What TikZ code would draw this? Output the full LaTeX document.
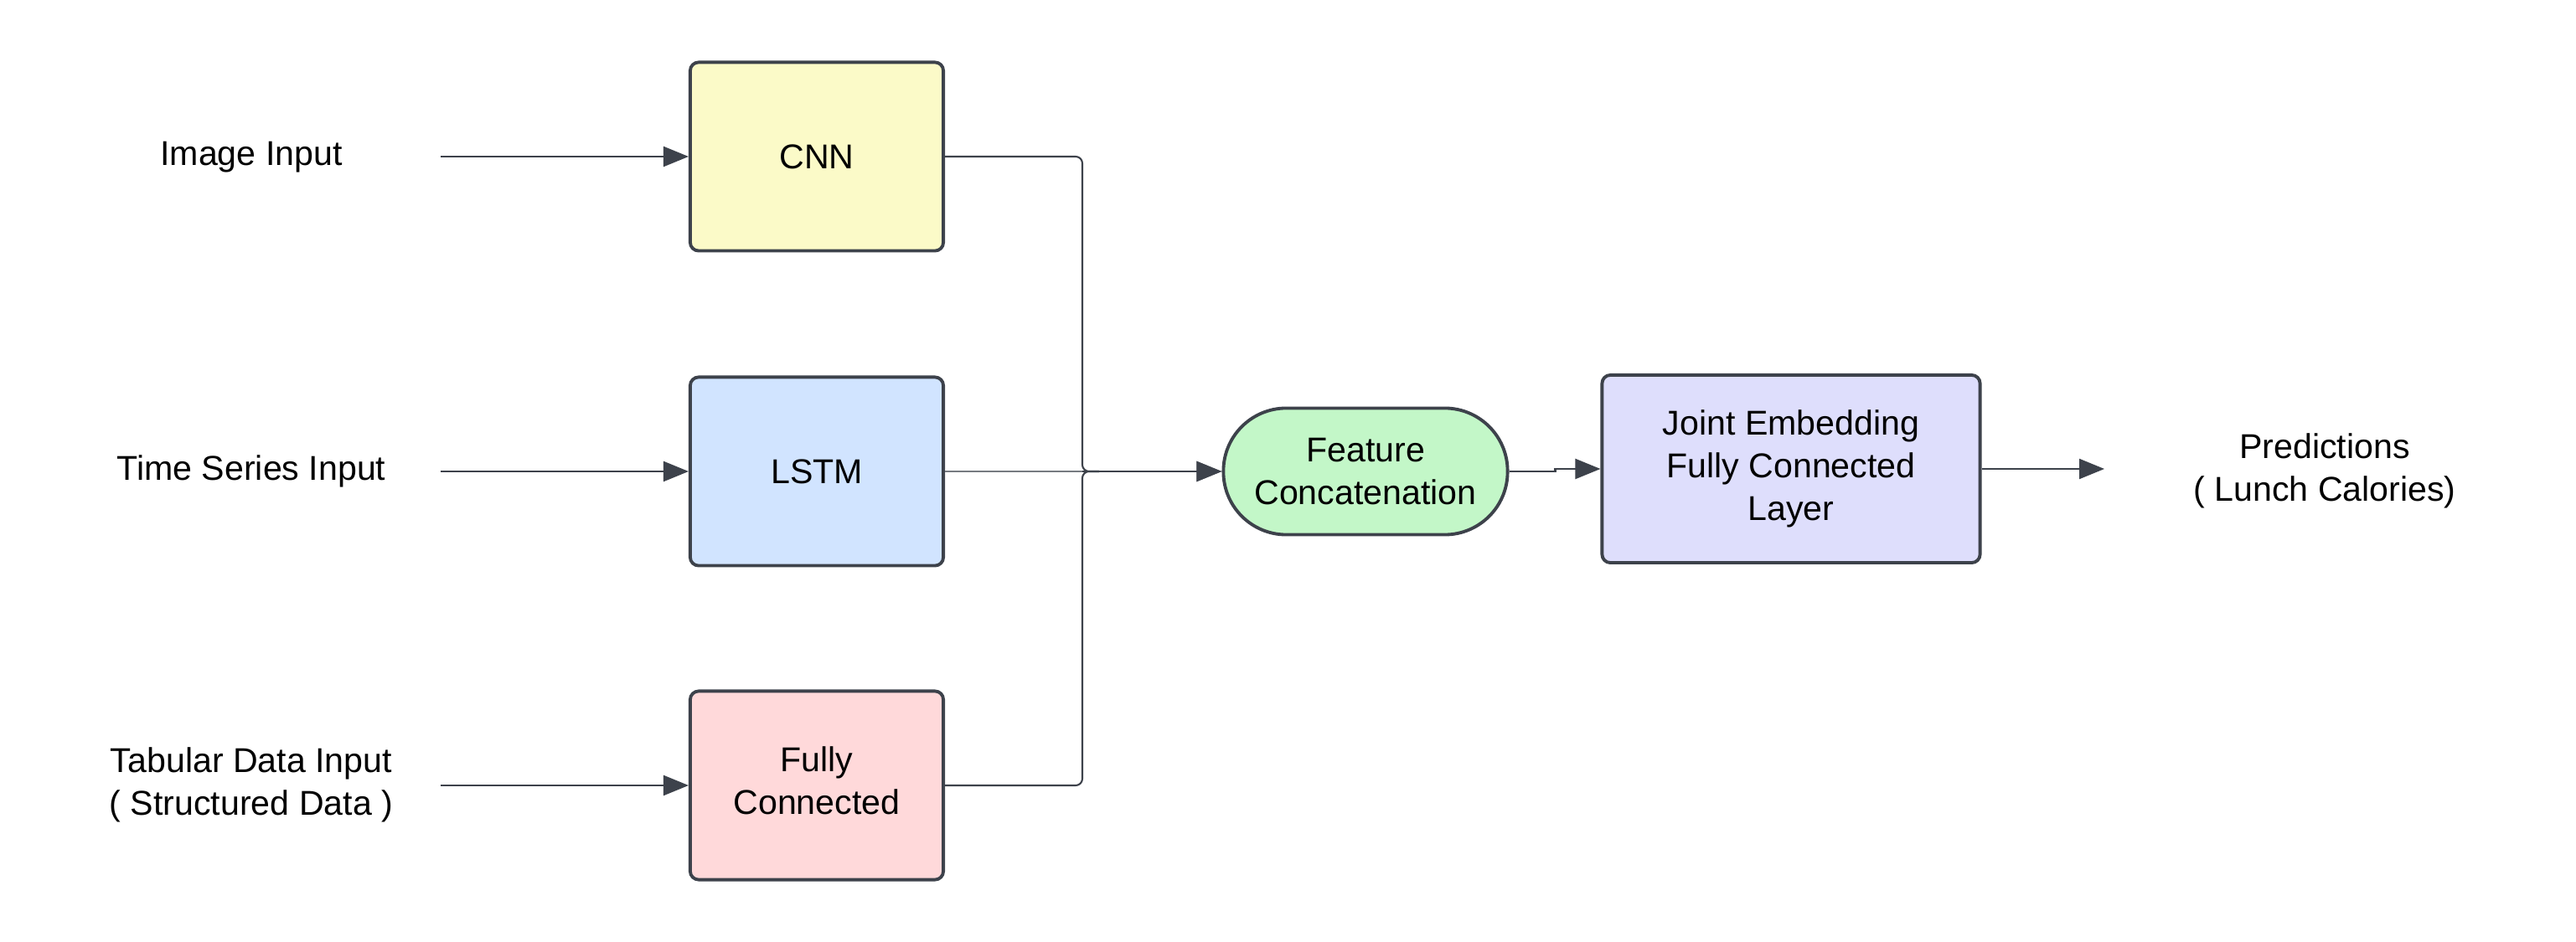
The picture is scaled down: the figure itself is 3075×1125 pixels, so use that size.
\documentclass[tikz,border=0pt]{standalone}
\usepackage{fontspec}
\setmainfont{Liberation Sans}
\usetikzlibrary{arrows.meta}
\definecolor{edge}{HTML}{3D424B}
\definecolor{cnnfill}{HTML}{FBFAC8}
\definecolor{lstmfill}{HTML}{D1E4FF}
\definecolor{fcfill}{HTML}{FFD9DA}
\definecolor{featfill}{HTML}{C3F7C8}
\definecolor{jointfill}{HTML}{DEDEFC}
\tikzset{
  block/.style={draw=edge, line width=1.1pt, rounded corners=0.1cm, minimum width=3.02cm, minimum height=2.25cm, align=center, inner sep=0pt},
  stadium/.style={draw=edge, line width=1.1pt, rounded corners=0.75cm, minimum width=3.39cm, minimum height=1.51cm, align=center, inner sep=0pt},
  lbl/.style={align=center, inner sep=0pt},
  conn/.style={draw=edge, line width=0.6pt, -{Triangle[length=0.3cm,width=0.24cm]}},
  bus/.style={draw=edge, line width=0.6pt, rounded corners=0.08cm},
}
\begin{document}
\begin{tikzpicture}[x=0.01cm,y=-0.01cm, font=\fontsize{11.7}{14.5}\selectfont]
\useasboundingbox (0,0) rectangle (3075,1125);
% input labels
\node[lbl] (limg) at (300,188) {Image Input};
\node[lbl] (lts) at (300,563) {Time Series Input};
\node[lbl] (ltab) at (300,937) {Tabular Data Input\\( Structured Data )};
\coordinate (in1) at (526,187);
\coordinate (in2) at (526,563);
\coordinate (in3) at (526,938);
% blocks
\node[block, fill=cnnfill] (cnn) at (975,187) {CNN};
\node[block, fill=lstmfill] (lstm) at (975,563) {LSTM};
\node[block, fill=fcfill] (fc) at (975,938) {Fully\\Connected\\[-0.39cm]};
\node[stadium, fill=featfill] (feat) at (1630,563) {Feature\\Concatenation};
\node[block, fill=jointfill, minimum width=4.51cm, minimum height=2.24cm] (joint) at (2138,560) {Joint Embedding\\Fully Connected\\Layer};
\node[lbl] (pred) at (2775,562) {Predictions\\( Lunch Calories)};
\coordinate (out) at (2512,560);
\coordinate (bx) at (1292,563);
% input arrows
\draw[conn] (in1) -- (cnn.west);
\draw[conn] (in2) -- (lstm.west);
\draw[conn] (in3) -- (fc.west);
% bus
\draw[bus] (cnn.east) -- (cnn.east -| bx) -- (bx) -- ++(20,0);
\draw[bus] (fc.east) -- (fc.east -| bx) -- (bx) -- ++(20,0);
\draw[conn, draw=edge!70] (lstm.east) -- (feat.west);
\draw[conn] (bx) -- (feat.west);
% to joint and out
\draw[conn] (feat.east) -- ++(55,0) |- (joint.west);
\draw[conn] (joint.east) -- (out);
\end{tikzpicture}
\end{document}
